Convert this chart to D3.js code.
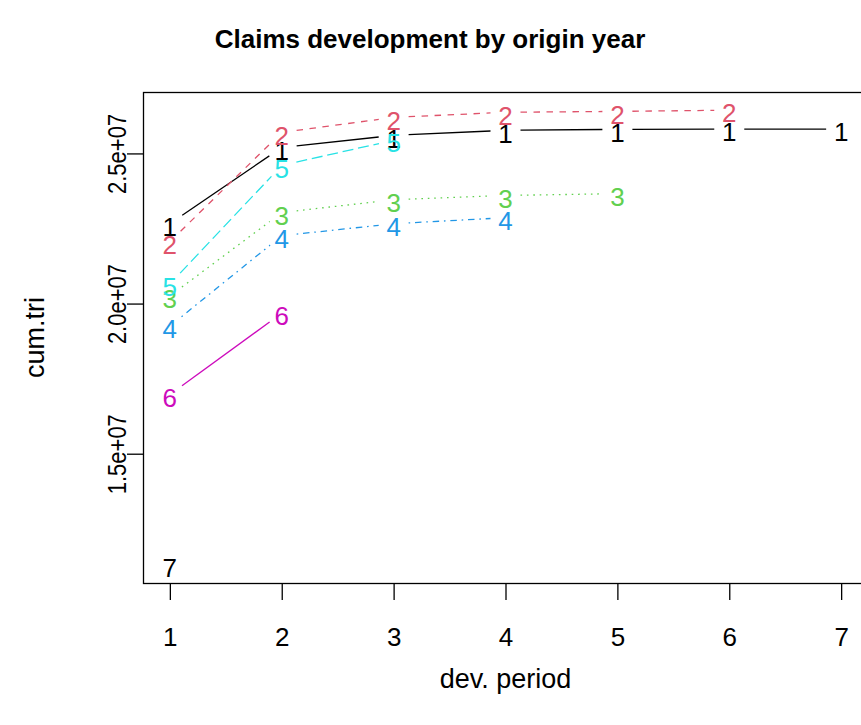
<!DOCTYPE html>
<html>
<head>
<meta charset="utf-8">
<script src="https://cdn.jsdelivr.net/npm/d3@7"></script>
<style>
  html, body { margin: 0; padding: 0; background: #ffffff; }
  svg { display: block; }
  text { font-family: "Liberation Sans", Arial, sans-serif; fill: #000; }
</style>
</head>
<body>
<svg id="chart" width="861" height="725"></svg>
<script>
// Cumulative claims triangle: one array per origin year, indexed by development period
const devPeriods = [1, 2, 3, 4, 5, 6, 7];
const origin1 = [22660000, 25200000, 25600000, 25770000, 25800000, 25810000, 25810000];
const origin2 = [22060000, 25700000, 26200000, 26370000, 26400000, 26440000];
const origin3 = [20250000, 23030000, 23460000, 23600000, 23660000];
const origin4 = [19250000, 22260000, 22660000, 22860000];
const origin5 = [20650000, 24600000, 25440000];
const origin6 = [16970000, 19680000];
const origin7 = [11300000];
const originLabels = ["1", "2", "3", "4", "5", "6", "7"];

const xTickValues = [1, 2, 3, 4, 5, 6, 7];
const yTickValues = [15000000, 20000000, 25000000];
const yTickLabels = ["1.5e+07", "2.0e+07", "2.5e+07"];

const titleText = "Claims development by origin year";
const xTitle = "dev. period";
const yTitle = "cum.tri";

// matplot-style recycling: colours 1:6, line types 1:5
const palette = ["#000000", "#DF536B", "#61D04F", "#2297E6", "#28E2E5", "#CD0BBC"];
const dashes = [null, "6.5,6.5", "1.6,4.8", "1.6,4.8,6.5,4.8", "11,4.8"];

const series = [origin1, origin2, origin3, origin4, origin5, origin6, origin7];

const svg = d3.select("#chart");

// Plot region
const plot = { left: 143, right: 868, top: 92, bottom: 583 };

// Axis ranges extended by 4% like base graphics
const xExt = d3.extent(devPeriods);
const xPad = (xExt[1] - xExt[0]) * 0.04;
const x = d3.scaleLinear()
  .domain([xExt[0] - xPad, xExt[1] + xPad])
  .range([plot.left, plot.right]);

const allVals = series.flat();
const yExt = d3.extent(allVals);
const yPad = (yExt[1] - yExt[0]) * 0.04;
const y = d3.scaleLinear()
  .domain([yExt[0] - yPad, yExt[1] + yPad])
  .range([plot.bottom, plot.top]);

svg.append("defs").append("clipPath").attr("id", "plotClip")
  .append("rect")
  .attr("x", plot.left).attr("y", plot.top)
  .attr("width", plot.right - plot.left).attr("height", plot.bottom - plot.top);

// Title
svg.append("text")
  .attr("x", 430).attr("y", 48)
  .attr("text-anchor", "middle")
  .style("font-size", "26px").style("font-weight", "bold")
  .text(titleText);

// X axis
const xAxis = d3.axisBottom(x).tickValues(xTickValues).tickFormat(d3.format("d"))
  .tickSize(17).tickPadding(0);
const gx = svg.append("g").attr("transform", `translate(0,${plot.bottom})`).call(xAxis);
gx.select(".domain").attr("d", `M${x(1)},0.5H${x(7)}`).attr("stroke", "#000");
gx.selectAll(".tick line").attr("stroke", "#000").attr("stroke-width", 1.3);
gx.selectAll(".tick text")
  .style("font-size", "26px")
  .style("font-family", "'Liberation Sans', Arial, sans-serif")
  .attr("y", 63)
  .attr("dy", "0");

// Y axis
const yAxis = d3.axisLeft(y).tickValues(yTickValues)
  .tickFormat((d, i) => yTickLabels[i]).tickSize(16).tickPadding(0);
const gy = svg.append("g").attr("transform", `translate(${plot.left},0)`).call(yAxis);
gy.select(".domain").remove();
gy.selectAll(".tick line").attr("stroke", "#000").attr("stroke-width", 1.3);
gy.selectAll(".tick text")
  .style("font-size", "22px")
  .style("font-family", "'Liberation Sans', Arial, sans-serif")
  .attr("text-anchor", "middle")
  .attr("x", 0).attr("dy", 0)
  .attr("transform", "translate(-17,0) rotate(-90) scale(1,1.18)");

// Axis titles
svg.append("text")
  .attr("x", (plot.left + plot.right) / 2).attr("y", 688)
  .attr("text-anchor", "middle")
  .style("font-size", "27px")
  .text(xTitle);

svg.append("text")
  .attr("transform", `translate(44,${(plot.top + plot.bottom) / 2}) rotate(-90)`)
  .attr("text-anchor", "middle")
  .style("font-size", "27px")
  .text(yTitle);

// Lines with gaps around the point labels (type "b")
const gap = 15;
const lineLayer = svg.append("g").attr("clip-path", "url(#plotClip)");
series.forEach((vals, si) => {
  const col = palette[si % palette.length];
  const dash = dashes[si % dashes.length];
  for (let i = 0; i < vals.length - 1; i++) {
    const x0 = x(devPeriods[i]), y0 = y(vals[i]);
    const x1 = x(devPeriods[i + 1]), y1 = y(vals[i + 1]);
    const len = Math.hypot(x1 - x0, y1 - y0);
    if (len <= 2 * gap) continue;
    const ux = (x1 - x0) / len, uy = (y1 - y0) / len;
    const seg = lineLayer.append("line")
      .attr("x1", x0 + ux * gap).attr("y1", y0 + uy * gap)
      .attr("x2", x1 - ux * gap).attr("y2", y1 - uy * gap)
      .attr("stroke", col).attr("stroke-width", 1.3);
    if (dash) seg.attr("stroke-dasharray", dash);
  }
});

// Point labels: origin year number at each observation
const labelLayer = svg.append("g").attr("clip-path", "url(#plotClip)");
series.forEach((vals, si) => {
  const col = palette[si % palette.length];
  labelLayer.selectAll(null)
    .data(vals)
    .enter().append("text")
    .attr("x", (d, i) => x(devPeriods[i]))
    .attr("y", d => y(d))
    .attr("dy", "0.47em")
    .attr("text-anchor", "middle")
    .style("font-size", "26px")
    .style("fill", col)
    .text(originLabels[si]);
});

// Plot box
svg.append("rect")
  .attr("x", plot.left + 0.5).attr("y", plot.top + 0.5)
  .attr("width", plot.right - plot.left).attr("height", plot.bottom - plot.top)
  .attr("fill", "none").attr("stroke", "#000").attr("stroke-width", 1.3);
</script>
</body>
</html>
